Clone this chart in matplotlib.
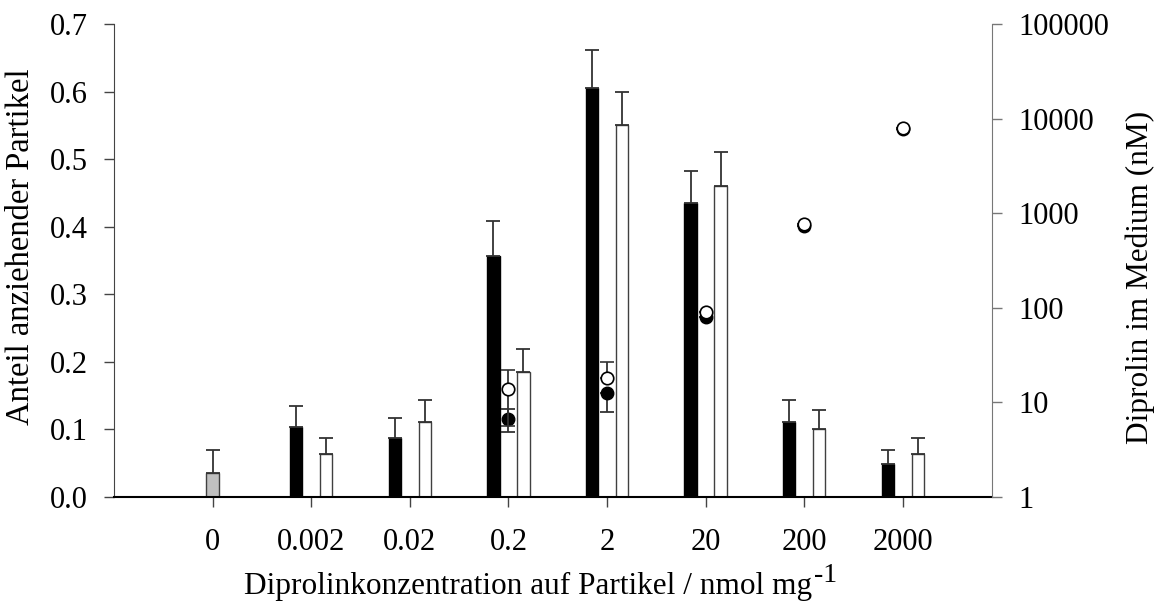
import matplotlib as mpl
mpl.use("Agg")
import matplotlib.pyplot as plt
import numpy as np

mpl.rcParams["font.family"] = ["Liberation Serif", "DejaVu Serif"]
mpl.rcParams["font.size"] = 22

# DATA
categories = ["0", "0.002", "0.02", "0.2", "2", "20", "200", "2000"]
control_val = [0.036]
control_err = [0.034]
black_val = [0.104, 0.087, 0.356, 0.605, 0.435, 0.111, 0.049]
black_err = [0.030, 0.030, 0.052, 0.056, 0.048, 0.032, 0.020]
white_val = [0.064, 0.111, 0.185, 0.551, 0.460, 0.100, 0.063]
white_err = [0.024, 0.033, 0.034, 0.048, 0.050, 0.029, 0.025]

# medium concentration (nM), categories 0.2 .. 2000
conc_cats = ["0.2", "2", "20", "200", "2000"]
filled_nm = [6.7, 12.7, 80, 725, 7700]
filled_lo = [1.8, 4.8, 0, 0, 0]
filled_hi = [1.8, 0, 0, 0, 0]
open_nm = [13.9, 18.0, 91, 761, 7950]
open_lo = [8.2, 0, 0, 0, 0]
open_hi = [8.2, 8.6, 0, 0, 0]

x = np.arange(len(categories))
xb = x[1:]
xc = np.array([categories.index(c) for c in conc_cats])
off = 0.152
w = 0.125
ecol = "#333333"

fig = plt.figure(figsize=(11.57, 6.01), dpi=100)
ax = fig.add_axes([0.0985, 0.173, 0.7585, 0.787])

# BARS ON LEFT AXIS
ekw = dict(ecolor=ecol, elinewidth=1.3, capsize=5, capthick=1.3)
ax.bar(x[:1], control_val, w, yerr=[[0], control_err], color="#c0c0c0",
       edgecolor="#404040", linewidth=1, error_kw=ekw)
ax.bar(xb - off, black_val, w, yerr=[np.zeros(7), black_err], color="black",
       edgecolor="black", linewidth=1, error_kw=ekw)
ax.bar(xb + off, white_val, w, yerr=[np.zeros(7), white_err], color="white",
       edgecolor="#404040", linewidth=1, error_kw=ekw)

ax.set_xlim(-1, 7.9)
ax.set_ylim(0, 0.7)
ax.set_xticks(x)
ax.set_xticklabels(categories)
ax.set_yticks(np.arange(0, 0.71, 0.1))
ax.set_yticklabels([f"{v:.1f}" for v in np.arange(0, 0.71, 0.1)])
ax.spines["top"].set_visible(False)
ax.spines["right"].set_visible(False)
ax.spines["left"].set_color("#444444")
ax.spines["bottom"].set_color("black")
ax.spines["bottom"].set_linewidth(1.5)
ax.tick_params(axis="y", direction="out", length=7, width=1, color="#444444", pad=12)
ax.tick_params(axis="x", direction="out", length=7, width=1, color="#444444", pad=15)

xl = ax.set_xlabel("Diprolinkonzentration auf Partikel / nmol mg", fontsize=22.5, labelpad=11)
ax.xaxis.label.set_x(0.472)
ax.annotate("-1", xy=(1, 0.45), xycoords=xl, xytext=(1, 0), textcoords="offset points",
            fontsize=20, ha="left", va="bottom")
ax.set_ylabel("Anteil anziehender Partikel", fontsize=23.5, labelpad=10)
ax.yaxis.label.set_y(0.529)

# POINTS ON RIGHT (LOG) AXIS
ax2 = ax.twinx()
ax2.set_yscale("log")
ax2.set_ylim(1, 100000)
ax2.errorbar(xc, filled_nm, yerr=[filled_lo, filled_hi], fmt="o", ms=9,
             mfc="black", mec="black", ecolor=ecol, elinewidth=1.3,
             capsize=5, capthick=1.3, zorder=3)
ax2.errorbar(xc, open_nm, yerr=[open_lo, open_hi], fmt="o", ms=9,
             mfc="white", mec="black", mew=1.2, ecolor=ecol, elinewidth=1.3,
             capsize=5, capthick=1.3, zorder=4)
ax2.set_yticks([1, 10, 100, 1000, 10000, 100000])
ax2.set_yticklabels(["1", "10", "100", "1000", "10000", "100000"])
ax2.yaxis.set_minor_locator(mpl.ticker.NullLocator())
for s in ["top", "left", "bottom"]:
    ax2.spines[s].set_visible(False)
ax2.spines["right"].set_color("#777777")
ax2.tick_params(axis="y", direction="out", length=7, width=1, color="#777777", pad=12)
ax2.set_ylabel("Diprolin im Medium (nM)", fontsize=22.5, labelpad=12)
ax2.yaxis.label.set_y(0.465)

fig.savefig("out.png", dpi=100)
